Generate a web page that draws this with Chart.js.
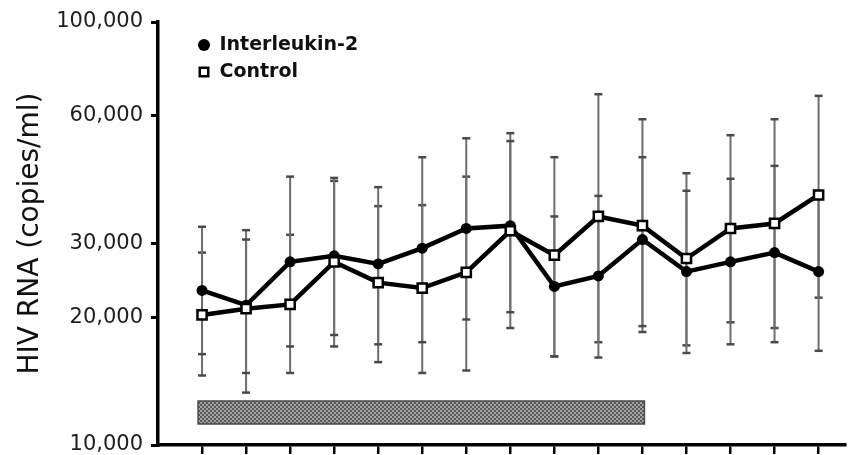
<!DOCTYPE html>
<html>
<head>
<meta charset="utf-8">
<title>HIV RNA: Interleukin-2 vs Control</title>
<script src="https://cdn.jsdelivr.net/npm/chart.js@4.4.1/dist/chart.umd.min.js"></script>
<style>
  html, body { margin: 0; padding: 0; background: #ffffff; }
  #wrap { width: 854px; height: 455px; position: relative; }
</style>
</head>
<body>
<div id="wrap"><canvas id="hivChart"></canvas></div>
<script>
// Study visits along the time axis
const visits = [0, 1, 2, 3, 4, 5, 6, 7, 8, 9, 10, 11, 12, 13, 14];

// Y-axis tick values (copies/ml)
const yTickValues = [10000, 20000, 30000, 60000, 100000];

// Interleukin-2 group: central value and error range
const il2Values = [23200, 21400, 27100, 28000, 26800, 29200, 32500, 33000, 23700, 25100, 30600, 25700, 27100, 28500, 25700];
const il2Upper  = [32800, 30600, 43100, 42800, 40700, 47900, 53100, 52300, 34700, 38800, 47900, 39900, 42600, 45700, 39500];
const il2Lower  = [16400, 14800, 17100, 18200, 17300, 17500, 19800, 20600, 16200, 16100, 19100, 16500, 17300, 17500, 16700];

// Control group: central value and error range
const controlValues = [20300, 21000, 21500, 27100, 24200, 23500, 25600, 32100, 28100, 34700, 33000, 27600, 32500, 33400, 39000];
const controlUpper  = [28500, 32200, 31400, 42100, 36700, 36900, 43100, 54600, 47900, 67500, 58900, 43900, 54000, 58900, 66900];
const controlLower  = [14600, 13300, 14800, 17100, 15700, 14800, 15000, 18900, 16200, 17500, 18500, 17200, 19500, 18900, 22300];

// Interleukin-2 dosing period, first and last visit
const treatmentSpan = [0, 10];

const seriesLabels = ['Interleukin-2', 'Control'];

function toPoints(values) {
  return visits.map((v, i) => ({ x: v, y: values[i] }));
}

// Vertical whiskers: low -> high for each visit, broken by a gap
function whiskerPoints(lower, upper) {
  const pts = [];
  visits.forEach((v, i) => {
    pts.push({ x: v, y: lower[i] }, { x: v, y: upper[i] }, { x: v, y: null });
  });
  return pts;
}

// Fine checker pattern used for the dosing bar
function makeChecker() {
  const c = document.createElement('canvas');
  c.width = 4; c.height = 4;
  const g = c.getContext('2d');
  g.fillStyle = '#a4a4a4'; g.fillRect(0, 0, 4, 4);
  g.fillStyle = '#5a5a5a';
  g.fillRect(0, 0, 2, 2); g.fillRect(2, 2, 2, 2);
  return g.createPattern(c, 'repeat');
}

const treatmentBand = {
  id: 'treatmentBand',
  beforeDatasetsDraw(chart, args, opts) {
    const { ctx, chartArea, scales } = chart;
    const x = scales.x;
    const left = x.getPixelForValue(treatmentSpan[0]) - opts.outsetStart;
    const right = x.getPixelForValue(treatmentSpan[1]) + opts.outsetEnd;
    const bottom = chartArea.bottom - opts.gap;
    const top = bottom - opts.thickness;
    ctx.save();
    ctx.fillStyle = makeChecker();
    ctx.fillRect(left, top, right - left, bottom - top);
    ctx.strokeStyle = opts.edgeColor;
    ctx.lineWidth = opts.edgeWidth;
    ctx.strokeRect(left, top, right - left, bottom - top);
    ctx.restore();
  }
};

// Places the legend inside the plot, near its upper-left corner
const legendPlacement = {
  id: 'legendPlacement',
  afterLayout(chart, args, opts) {
    const lg = chart.legend;
    const area = chart.chartArea;
    if (!lg) return;
    lg.left = area.left + opts.dx;
    lg.top = area.top + opts.dy;
    lg.right = area.right;
    lg.bottom = area.bottom;
  }
};

const whiskerStyle = {
  type: 'line',
  label: '',
  borderColor: '#6e6e6e',
  borderWidth: 2,
  pointStyle: 'line',
  pointRadius: 4,
  pointBorderWidth: 2.5,
  pointBorderColor: '#4a4a4a',
  pointBackgroundColor: '#4a4a4a',
  spanGaps: false,
  tension: 0,
  order: 2
};

new Chart(document.getElementById('hivChart'), {
  type: 'line',
  data: {
    datasets: [
      {
        label: seriesLabels[0],
        data: toPoints(il2Values),
        borderColor: '#000000',
        borderWidth: 4.5,
        tension: 0,
        pointStyle: 'circle',
        pointRadius: 5.5,
        pointBackgroundColor: '#000000',
        pointBorderColor: '#000000',
        pointBorderWidth: 0,
        order: 1
      },
      {
        label: seriesLabels[1],
        data: toPoints(controlValues),
        borderColor: '#000000',
        borderWidth: 4.5,
        tension: 0,
        pointStyle: 'rect',
        pointRadius: 6.5,
        pointBackgroundColor: '#ffffff',
        pointBorderColor: '#000000',
        pointBorderWidth: 2.5,
        order: 0
      },
      Object.assign({ data: whiskerPoints(il2Lower, il2Upper) }, whiskerStyle),
      Object.assign({ data: whiskerPoints(controlLower, controlUpper) }, whiskerStyle)
    ]
  },
  options: {
    responsive: true,
    maintainAspectRatio: false,
    animation: false,
    events: [],
    layout: { padding: { top: 22, left: 0, right: 0, bottom: 0 } },
    scales: {
      x: {
        type: 'linear',
        min: -1,
        max: 14.6,
        bounds: 'data',
        afterBuildTicks: (scale) => { scale.ticks = visits.map(v => ({ value: v })); },
        afterFit: (scale) => { scale.height = 10; scale.paddingLeft = 0; scale.paddingRight = 0; },
        ticks: { display: false },
        grid: { drawOnChartArea: false, drawTicks: true, tickLength: 9, color: '#000000', lineWidth: 2.5 },
        border: { display: true, color: '#000000', width: 3.5 }
      },
      y: {
        type: 'logarithmic',
        min: 10000,
        max: 100000,
        afterBuildTicks: (scale) => { scale.ticks = yTickValues.map(v => ({ value: v })); },
        afterFit: (scale) => { scale.width = 158; scale.paddingTop = 0; scale.paddingBottom = 0; },
        ticks: {
          padding: 8,
          color: '#1e1e1e',
          font: { family: '"DejaVu Sans", sans-serif', size: 21 },
          callback: (value) => Number(value).toLocaleString('en-US')
        },
        grid: { drawOnChartArea: false, drawTicks: true, tickLength: 7, color: '#000000', lineWidth: 3 },
        border: { display: true, color: '#000000', width: 3.5 },
        title: {
          display: true,
          text: 'HIV RNA (copies/ml)',
          color: '#111111',
          font: { family: '"DejaVu Sans", sans-serif', size: 28, weight: 'normal' },
          padding: { top: 14, bottom: 0 }
        }
      }
    },
    plugins: {
      tooltip: { enabled: false },
      legend: {
        position: 'chartArea',
        align: 'start',
        labels: {
          usePointStyle: true,
          boxWidth: 12,
          boxHeight: 8.5,
          padding: 8,
          color: '#111111',
          font: { family: '"DejaVu Sans", sans-serif', size: 19, weight: 'bold' },
          filter: (item) => !!item.text,
          sort: (a, b) => a.datasetIndex - b.datasetIndex
        }
      },
      legendPlacement: { dx: 32, dy: 5.5 },
      treatmentBand: { outsetStart: 4, outsetEnd: 2, gap: 21, thickness: 23, edgeColor: '#4a4a4a', edgeWidth: 1.5 }
    }
  },
  plugins: [treatmentBand, legendPlacement]
});
</script>
</body>
</html>
